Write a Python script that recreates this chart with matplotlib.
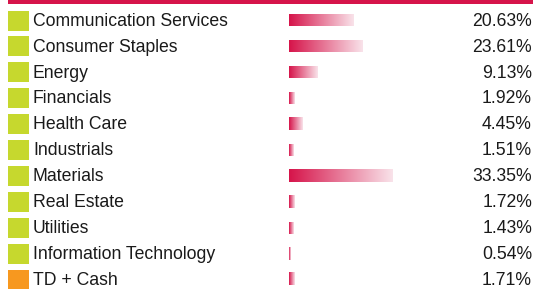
import numpy as np
import matplotlib.pyplot as plt
from matplotlib.patches import Rectangle
from matplotlib.colors import LinearSegmentedColormap

plt.rcParams['font.family'] = ['Liberation Sans', 'DejaVu Sans']

sectors = ['Communication Services', 'Consumer Staples', 'Energy', 'Financials',
           'Health Care', 'Industrials', 'Materials', 'Real Estate', 'Utilities',
           'Information Technology', 'TD + Cash']
weights = [20.63, 23.61, 9.13, 1.92, 4.45, 1.51, 33.35, 1.72, 1.43, 0.54, 1.71]
icon_colors = ['#C6D82E'] * 10 + ['#F7981F']

RED = '#D6144A'
TEXT = '#1a1a1a'
W, H = 533, 289
ROW0, STEP = 20.5, 25.9

fig = plt.figure(figsize=(W / 100, H / 100), dpi=100)
ylim = ((H - ROW0) / STEP, -ROW0 / STEP)

# background axes in pixel x / row y
ax = fig.add_axes([0, 0, 1, 1])
ax.set_xlim(0, W)
ax.set_ylim(*ylim)
ax.axis('off')

# top red rule
ax.add_patch(Rectangle((8, ylim[1]), W - 8, 4.5 / STEP, color=RED, lw=0))

rows = np.arange(len(sectors))
ax.barh(rows, 21, left=8, height=20 / STEP, color=icon_colors)
for i, (name, w) in enumerate(zip(sectors, weights)):
    ax.text(33, i + 0.03, name, fontsize=12.7, color=TEXT, va='center', ha='left')
    ax.text(532, i + 0.03, f'{w:.2f}%', fontsize=12.7, color=TEXT, va='center', ha='right')

# gradient bars
bx = fig.add_axes([289 / W, 0, 104 / W, 1])
bx.set_xlim(0, max(weights))
bx.set_ylim(*ylim)
bx.axis('off')
cmap = LinearSegmentedColormap.from_list('fade', [RED, '#F9E3EA'])
grad = np.linspace(0, 1, 256).reshape(1, -1)
bh = 12 / STEP
for i, w in enumerate(weights):
    bx.imshow(grad, cmap=cmap, aspect='auto', interpolation='bilinear',
              extent=(0, w, i + bh / 2, i - bh / 2))
bx.set_xlim(0, max(weights))
bx.set_ylim(*ylim)

fig.savefig('out.png', dpi=100)
